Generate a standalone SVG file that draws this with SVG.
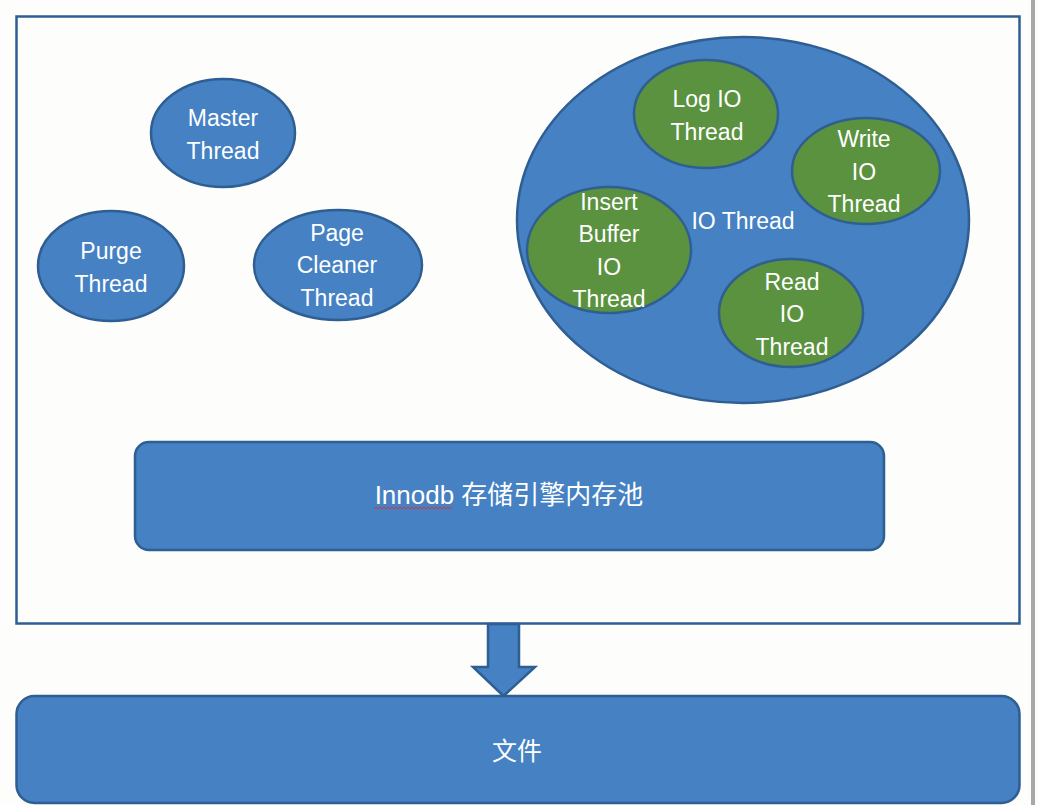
<svg xmlns="http://www.w3.org/2000/svg" width="1038" height="805" viewBox="0 0 1038 805">
<style>
.b{fill:#4581c3;stroke:#2f5e92;stroke-width:2.5}
.g{fill:#5a9240;stroke:#2f5e92;stroke-width:2.5}
.t{fill:#ffffff;font-family:"Liberation Sans","Noto Sans CJK SC",sans-serif;font-size:23px;text-anchor:middle}
</style>
<rect x="0" y="0" width="1038" height="805" fill="#fdfdfb"/>
<rect x="1031" y="0" width="4" height="805" fill="#a8a8a8"/>
<g id="container"><rect x="16.5" y="16.5" width="1003" height="607" fill="#fdfdfb" stroke="#2f5e92" stroke-width="2.5"/></g>
<g id="master"><ellipse class="b" cx="223" cy="133" rx="72" ry="54"/><text class="t" x="223" y="126">Master</text><text class="t" x="223" y="159">Thread</text></g>
<g id="purge"><ellipse class="b" cx="111" cy="266" rx="73" ry="55"/><text class="t" x="111" y="259">Purge</text><text class="t" x="111" y="292">Thread</text></g>
<g id="pagecleaner"><ellipse class="b" cx="338" cy="265" rx="84" ry="55"/><text class="t" x="337" y="241">Page</text><text class="t" x="337" y="273">Cleaner</text><text class="t" x="337" y="306">Thread</text></g>
<g id="iothread"><ellipse class="b" cx="743" cy="220" rx="226" ry="183"/><text class="t" x="743" y="229">IO Thread</text></g>
<g id="logio"><ellipse class="g" cx="706" cy="114" rx="72" ry="54"/><text class="t" x="707" y="107">Log IO</text><text class="t" x="707" y="140">Thread</text></g>
<g id="writeio"><ellipse class="g" cx="866" cy="171" rx="74" ry="53"/><text class="t" x="864" y="147">Write</text><text class="t" x="864" y="180">IO</text><text class="t" x="864" y="212">Thread</text></g>
<g id="insertbuffer"><ellipse class="g" cx="609" cy="250" rx="82" ry="63"/><text class="t" x="609" y="210">Insert</text><text class="t" x="609" y="242">Buffer</text><text class="t" x="609" y="275">IO</text><text class="t" x="609" y="307">Thread</text></g>
<g id="readio"><ellipse class="g" cx="791" cy="313" rx="72" ry="54"/><text class="t" x="792" y="290">Read</text><text class="t" x="792" y="322">IO</text><text class="t" x="792" y="355">Thread</text></g>
<g id="innodb"><rect class="b" x="135" y="442" width="749" height="108" rx="14"/><text class="t" x="509" y="504" style="font-size:26px">Innodb 存储引擎内存池</text>
<path d="M374 509 l2 -2 l2 2 l2 -2 l2 2 l2 -2 l2 2 l2 -2 l2 2 l2 -2 l2 2 l2 -2 l2 2 l2 -2 l2 2 l2 -2 l2 2 l2 -2 l2 2 l2 -2 l2 2 l2 -2 l2 2 l2 -2 l2 2 l2 -2 l2 2 l2 -2 l2 2 l2 -2 l2 2 l2 -2 l2 2 l2 -2 l2 2 l2 -2 l2 2 l2 -2 l2 2 l2 -2" fill="none" stroke="#e03030" stroke-width="1"/></g>
<g id="connectors"><path class="b" d="M488 624 L519 624 L519 667 L535 667 L503.5 696 L473 667 L488 667 Z"/></g>
<g id="files"><rect class="b" x="16.5" y="696" width="1003" height="107" rx="18"/><text class="t" x="517" y="760" style="font-size:25px">文件</text></g>
</svg>
